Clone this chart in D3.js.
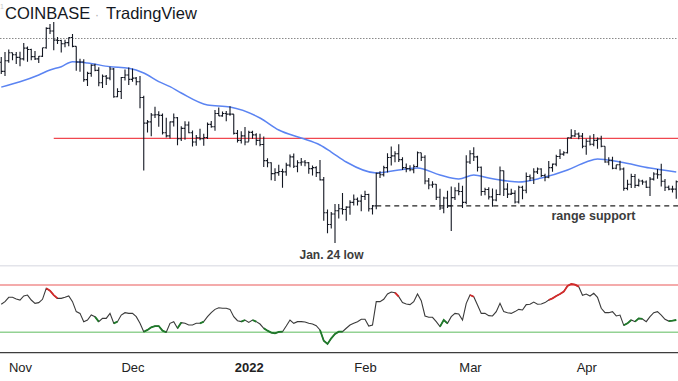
<!DOCTYPE html>
<html><head><meta charset="utf-8">
<script src="https://cdn.jsdelivr.net/npm/d3@7"></script>
<style>
html,body{margin:0;padding:0;background:#fff;}
svg{display:block;font-family:"Liberation Sans",Arial,Helvetica,sans-serif;}
</style></head>
<body><svg id="c" width="678" height="381"></svg>
<script>
// ---- DATA (BTC/USD daily, 2021-10-27 .. 2022-04-25) ----
const startDay = "2021-10-27";
const endDay = "2022-04-25";
const opens = [60300,58500,60600,62250,61850,
61300,61000,63230,62950,61450,61000,61530,63300,67550,66950,64950,64850,64150,64400,65500,63600,60350,60350,56900,58100,59700,58700,56300,57550,57200,58950,53750,54700,57300,57800,
56950,57200,56500,53600,49200,49400,50550,50600,50500,47650,47150,49400,50100,46700,48350,48900,47650,46200,46850,46700,46900,49000,48600,50800,50400,50800,50700,50700,47550,46450,47150,
46200,47700,47300,46450,45800,43400,43100,41550,41700,41850,41800,42750,43950,42600,43100,43200,43100,42250,42400,41700,40700,36450,35050,36300,36700,36950,36850,37150,37750,38150,37900,
38500,38750,36950,37300,41600,41400,42400,43850,44100,44400,43550,42400,42250,42100,42550,44550,43900,40550,40000,40100,38400,37050,38300,37300,38350,39250,39150,37750,
43200,44400,43950,42450,39150,39400,38450,38050,38750,41950,39450,38800,38900,37800,39700,39300,41150,40950,41800,42200,41300,41050,42400,42900,44000,44350,44550,46850,47150,47450,47100,
45550,46300,45850,46450,46650,45550,43200,43450,42300,42800,42200,39550,40100,41150,39950,40550,40400,39700,40800,41500,41400,40500,39700,39450,39450];
const highs = [61400,62400,62950,62300,62400,
62450,64300,63550,63100,62600,61600,63300,67800,68550,69000,65600,65000,65000,65550,66300,63600,61000,60900,58400,59900,60000,59300,57900,57800,59400,59150,55300,57400,58850,59250,
59050,57400,57600,53900,49700,50900,51950,51200,50800,50100,49450,50800,50200,48700,49500,49450,48000,47300,48300,47500,49300,49550,51400,51850,51150,51250,52050,50700,48100,47900,48550,
47950,47950,47550,47500,47050,43750,43150,42300,42800,42250,43100,44300,44450,43450,43800,43500,43200,42700,42600,43500,41100,36850,36550,37550,37550,38950,37250,38000,38750,38350,38750,
39250,38850,37400,41700,41900,42650,44500,45500,44800,45850,43900,43000,42750,42850,44750,44550,44200,40950,40500,40150,39500,38450,39250,39800,39700,40300,39900,44200,
44950,45400,44100,42550,39650,39700,39550,39400,42550,42000,40250,39500,39300,39900,39900,41700,41450,42300,42400,42300,41550,43350,43000,44250,45100,44800,46900,48200,48100,47700,47600,
46700,47200,47450,46900,47150,45550,43900,43950,42800,43400,42400,40700,41550,41500,40850,40700,40600,41100,41750,42200,42950,40800,39950,39900,40600];
const lows = [58000,57600,60200,60700,59950,
59500,60650,60400,60700,60750,60150,61400,63100,66300,62800,64100,62300,63400,63600,63400,58600,58400,56500,55700,57450,58500,55650,55350,55900,56800,53550,53650,53350,56750,55900,
56500,55850,51700,42000,47700,47100,50050,48600,47350,46900,46750,48650,45700,46350,46550,47550,45500,45600,46450,45600,46650,48450,47950,50400,50250,49500,50450,47350,46100,45950,45700,
46250,46700,45700,45550,42500,42450,40650,40550,41250,39650,41250,42450,42350,41750,42650,42600,41550,41300,41100,40600,35500,34050,34600,32950,35750,36250,35500,36200,37350,37350,36650,
38050,36600,36250,36900,40950,41150,41700,42700,43150,43200,42050,41750,41900,41600,42450,43350,40100,39450,39650,38050,36800,36400,37050,34300,38050,38650,37050,37500,
42900,43350,41850,38600,38650,38100,37200,37900,38650,38550,38300,38700,37600,37600,38150,38900,40550,40150,41500,41100,40500,40900,41800,42600,43650,44100,44450,46700,46950,46600,45250,
44250,45650,45550,45150,45400,43100,42750,42150,42150,42000,39250,39300,39600,39600,39800,40050,39600,38550,40600,40850,39800,39200,39300,39000,38200];
const closes = [58500,60600,62250,61850,61300,
61000,63230,62950,61450,61000,61530,63300,67550,66950,64950,64850,64150,64400,65500,63600,60350,60350,56900,58100,59700,58700,56300,57550,57200,58950,53750,54700,57300,57800,56950,
57200,56500,53600,49200,49400,50550,50600,50500,47650,47150,49400,50100,46700,48350,48900,47650,46200,46850,46700,46900,49000,48600,50800,50400,50800,50700,50700,47550,46450,47150,46200,
47700,47300,46450,45800,43400,43100,41550,41700,41850,41800,42750,43950,42600,43100,43200,43100,42250,42400,41700,40700,36450,35050,36300,36700,36950,36850,37150,37750,38150,37900,38500,
38750,36950,37300,41600,41400,42400,43850,44100,44400,43550,42400,42250,42100,42550,44550,43900,40550,40000,40100,38400,37050,38300,37300,38350,39250,39150,37750,43200,
44400,43950,42450,39150,39400,38450,38050,38750,41950,39450,38800,38900,37800,39700,39300,41150,40950,41800,42200,41300,41050,42400,42900,44000,44350,44550,46850,47150,47450,47100,45550,
46300,45850,46450,46650,45550,43200,43450,42300,42800,42200,39550,40100,41150,39950,40550,40400,39700,40800,41500,41400,40500,39700,39450,39450,40450];

// moving average
const maDates = ["2021-10-27","2021-11-01","2021-11-06","2021-11-09","2021-11-12","2021-11-15","2021-11-19","2021-11-25","2021-11-30","2021-12-04","2021-12-08","2021-12-11","2021-12-14","2021-12-21","2021-12-27","2022-01-04","2022-01-09","2022-01-15","2022-01-20","2022-01-23","2022-01-27","2022-02-04","2022-02-10","2022-02-15","2022-02-21","2022-02-26","2022-03-02","2022-03-06","2022-03-11","2022-03-14","2022-03-20","2022-03-27","2022-04-01","2022-04-04","2022-04-10","2022-04-18","2022-04-25"];
const maValues = [55500,56500,57800,58770,59420,60420,60160,59420,59100,58180,56520,55580,54420,52280,51930,50050,48080,46810,45730,44670,43200,41640,42060,42340,41360,40810,41360,40950,40540,40410,40950,42060,43200,43640,43200,42340,41780];

const rsi = [53.7,55.9,59.6,59.6,58.2,57.3,60.7,61.5,57.3,54.5,55.1,57.9,67.2,65.2,61.5,58.7,58.7,59.6,60.7,55.9,
47.5,46.0,39.0,40.4,44.6,43.2,39.0,41.8,41.8,46.0,37.6,39.0,44.6,46.6,46.0,46.0,43.2,37.6,30.5,32.0,
34.2,35.3,35.3,31.4,30.0,37.6,39.0,33.4,38.2,37.6,36.2,36.2,37.6,37.6,39.0,43.2,46.6,49.4,50.8,50.3,
50.3,49.4,43.2,39.8,39.0,40.4,38.4,40.4,39.0,37.0,33.4,31.4,29.7,29.1,30.3,30.5,35.3,40.4,37.6,39.0,
39.0,38.7,37.6,37.0,35.6,32.0,22.9,20.1,24.9,28.6,30.5,30.5,33.4,36.2,37.6,39.0,41.0,41.0,35.3,36.2,
55.9,55.9,57.9,62.4,64.1,63.5,60.1,55.1,53.9,53.4,55.9,62.4,56.8,43.8,42.7,42.7,39.0,34.8,40.4,37.6,
43.2,46.0,45.5,40.4,54.5,61.5,60.1,53.1,46.0,46.0,44.1,43.8,47.5,54.5,47.5,46.6,46.0,47.5,49.4,48.9,
53.4,53.7,55.6,53.7,53.9,55.1,57.3,58.7,60.7,62.4,64.4,69.2,70.8,70.3,68.6,61.3,62.4,60.7,63.0,59.6,
50.3,46.6,46.6,47.5,43.8,44.6,35.9,37.6,40.4,39.0,41.8,41.3,39.0,43.2,46.6,47.5,44.6,41.0,39.5,39.8,40.4];
const rsiRedRanges = [[12,15],[105,106],[125,126],[146,154]];
const rsiGreenRanges = [[25,26],[30,31],[38,44],[47,48],[53,54],[64,65],[67,68],[70,75],[85,91],[117,119],[166,168],[169,171],[178,180]];

// levels
const resistanceLevel = 46760, resistanceFrom = "2021-11-10";
const supportLevel = 37300, supportFrom = "2022-02-04";
const dottedLevel = 65500;
const rsiUpper = 70, rsiLower = 30;

// axis
const tickDates = ["2021-11-01","2021-12-01","2022-01-01","2022-02-01","2022-03-01","2022-04-01"];
const tickLabels = ["Nov","Dec","2022","Feb","Mar","Apr"];

// ---- DRAW ----
const parse = d3.utcParse("%Y-%m-%d");
const dates = d3.utcDay.range(parse(startDay), d3.utcDay.offset(parse(endDay), 1));
const svg = d3.select("#c");
const W = 678;

const x = d3.scaleUtc().domain([parse(startDay), parse(endDay)]).range([1.25, 676.25]);
const y = d3.scaleLog().domain([32950, 69000]).range([243, 22]);
const yr = d3.scaleLinear().domain([rsiLower, rsiUpper]).range([332.3, 285]);

// title
svg.append("text").attr("x", 0).attr("y", 9).attr("font-size", 7).attr("fill", "#c8c8c8").text("1");
svg.append("text").attr("x", 5).attr("y", 18.5).attr("font-size", 16.5).attr("fill", "#131722").text("COINBASE");
svg.append("text").attr("x", 95).attr("y", 18.5).attr("font-size", 12).attr("fill", "#b0b0b0").text("·");
svg.append("text").attr("x", 106).attr("y", 18.5).attr("font-size", 16.5).attr("fill", "#131722").text("TradingView");

// dotted level
svg.append("line").attr("x1", 0).attr("x2", W).attr("y1", Math.round(y(dottedLevel)) + 0.5).attr("y2", Math.round(y(dottedLevel)) + 0.5)
  .attr("stroke", "#8a8a8a").attr("stroke-width", 1).attr("stroke-dasharray", "1.5,1.5");

// resistance red line
svg.append("line").attr("x1", x(parse(resistanceFrom))).attr("x2", W)
  .attr("y1", y(resistanceLevel)).attr("y2", y(resistanceLevel))
  .attr("stroke", "#f0474f").attr("stroke-width", 1.2);

// support dashed
svg.append("line").attr("x1", x(parse(supportFrom))).attr("x2", W)
  .attr("y1", y(supportLevel)).attr("y2", y(supportLevel))
  .attr("stroke", "#222").attr("stroke-width", 1.3).attr("stroke-dasharray", "5,4");

// MA line
const maPts = maDates.map((d, i) => [parse(d), maValues[i]]);
svg.append("path").datum(maPts)
  .attr("d", d3.line().x(d => x(d[0])).y(d => y(d[1])).curve(d3.curveMonotoneX))
  .attr("fill", "none").attr("stroke", "#5b84f2").attr("stroke-width", 1.5);

// OHLC bars
const tick = 1.7;
const bars = svg.append("g").attr("stroke", "#131722").attr("stroke-width", 1.1).attr("fill", "none");
dates.forEach((d, i) => {
  const cx = x(d);
  const p = `M${cx},${y(highs[i])}V${y(lows[i])}M${cx - tick},${y(opens[i])}H${cx}M${cx},${y(closes[i])}H${cx + tick}`;
  bars.append("path").attr("d", p);
});

// annotations
svg.append("text").attr("x", 331.5).attr("y", 259).attr("text-anchor", "middle")
  .attr("font-size", 12).attr("font-weight", "bold").attr("fill", "#3c3c3c").text("Jan. 24 low");
svg.append("text").attr("x", 593.5).attr("y", 220).attr("text-anchor", "middle")
  .attr("font-size", 12.5).attr("font-weight", "bold").attr("fill", "#3c3c3c").text("range support");

// pane separator
svg.append("line").attr("x1", 0).attr("x2", W).attr("y1", 265.7).attr("y2", 265.7)
  .attr("stroke", "#e3e4ea").attr("stroke-width", 1.5);

// RSI levels
svg.append("line").attr("x1", 0).attr("x2", W).attr("y1", yr(rsiUpper)).attr("y2", yr(rsiUpper))
  .attr("stroke", "#f08f8f").attr("stroke-width", 1.5);
svg.append("line").attr("x1", 0).attr("x2", W).attr("y1", yr(rsiLower)).attr("y2", yr(rsiLower))
  .attr("stroke", "#93d293").attr("stroke-width", 1.5);

// RSI line
const rsiLine = d3.line().x(i => x(dates[i])).y(i => yr(rsi[i]));
svg.append("path").datum(d3.range(rsi.length)).attr("d", rsiLine)
  .attr("fill", "none").attr("stroke", "#3a3a3a").attr("stroke-width", 1.1);
rsiRedRanges.forEach(([a, b]) => {
  svg.append("path").datum(d3.range(a, b + 1)).attr("d", rsiLine)
    .attr("fill", "none").attr("stroke", "#d42a2a").attr("stroke-width", 1.8);
});
rsiGreenRanges.forEach(([a, b]) => {
  svg.append("path").datum(d3.range(a, b + 1)).attr("d", rsiLine)
    .attr("fill", "none").attr("stroke", "#1f7a2a").attr("stroke-width", 1.8);
});

// bottom border
svg.append("line").attr("x1", 0).attr("x2", W).attr("y1", 352.7).attr("y2", 352.7)
  .attr("stroke", "#3d3d3d").attr("stroke-width", 1.3);

// time axis
const axis = d3.axisBottom(x).tickValues(tickDates.map(parse))
  .tickFormat((d, i) => tickLabels[i]).tickSize(0).tickPadding(10);
const ga = svg.append("g").attr("transform", "translate(0,353)").call(axis);
ga.select(".domain").remove();
ga.selectAll("text").attr("font-size", 13).attr("fill", "#222")
  .attr("font-family", "'Liberation Sans',Arial,sans-serif")
  .attr("font-weight", (d, i) => tickLabels[i] === "2022" ? "bold" : "normal");
</script></body></html>
